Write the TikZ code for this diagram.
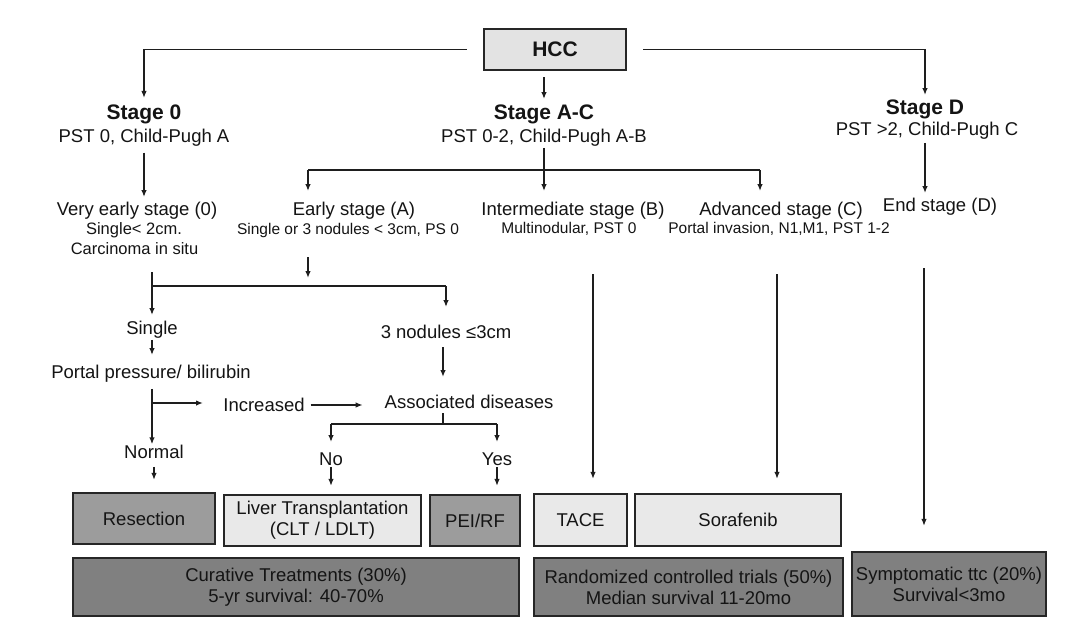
\documentclass[tikz,border=0pt]{standalone}
\usepackage{fontspec}
\setmainfont{Liberation Sans}
\usetikzlibrary{arrows.meta}
\definecolor{linec}{HTML}{1E1E1E}
\definecolor{borderc}{HTML}{262626}
\definecolor{textc}{HTML}{141414}
\definecolor{hccf}{HTML}{E3E3E3}
\definecolor{lightf}{HTML}{E9E9E9}
\definecolor{midf}{HTML}{9C9C9C}
\definecolor{darkf}{HTML}{808080}
\begin{document}
\begin{tikzpicture}[x=1pt,y=-1pt,
  txt/.style={font=\fontsize{18.5}{21}\selectfont, inner sep=0pt, outer sep=0pt, text height=13.3pt, text depth=0pt, text=textc},
  ttl/.style={font=\fontsize{21}{24}\selectfont\bfseries, inner sep=0pt, outer sep=0pt, text height=15.1pt, text depth=0pt, text=textc},
  sml/.style={font=\fontsize{15.5}{18}\selectfont, inner sep=0pt, outer sep=0pt, text height=11.2pt, text depth=0pt, text=textc},
  mdt/.style={font=\fontsize{16.5}{19}\selectfont, inner sep=0pt, outer sep=0pt, text height=11.9pt, text depth=0pt, text=textc},
  box/.style={draw=borderc, line width=1.8pt, inner sep=0pt, outer sep=0pt, align=center, font=\fontsize{18.5}{21}\selectfont, text=textc},
  ln/.style={draw=linec, line width=1.5pt},
  arr/.style={ln, -{Latex[length=7pt,width=5.5pt]}},
]
\useasboundingbox (0,0) rectangle (1071,630);
\fill[white] (0,0) rectangle (1071,630);

% top box
\node[box, fill=hccf, minimum width=142.2pt, minimum height=41.2pt, font=\fontsize{21}{24}\selectfont\bfseries] (hcc) at (555,49.5) {HCC};

% stage titles
\node[ttl] (s0) at (144,112) {Stage 0};
\node[txt] (p0) at (144,136) {PST 0, Child-Pugh A};
\node[ttl] (sAC) at (544,112) {Stage A-C};
\node[txt] (pAC) at (544,136) {PST 0-2, Child-Pugh A-B};
\node[ttl] (sD) at (925,107) {Stage D};
\node[txt] (pD) at (927,129) {PST >2, Child-Pugh C};

% level 3
\node[txt] (ve) at (137,209) {Very early stage (0)};
\node[mdt] (ves) at (134,229) {Single< 2cm.};
\node[mdt] (cis) at (134.5,249) {Carcinoma in situ};
\node[txt] (eA) at (354,209) {Early stage (A)};
\node[sml] (eAs) at (348,229) {Single or 3 nodules < 3cm, PS 0};
\node[txt] (iB) at (573,209) {Intermediate stage (B)};
\node[sml] (iBs) at (569,228) {Multinodular, PST 0};
\node[txt] (aC) at (781,209) {Advanced stage (C)};
\node[sml] (aCs) at (779,228) {Portal invasion, N1,M1, PST 1-2};
\node[txt] (eD) at (940,205) {End stage (D)};

% early-stage subtree
\node[txt] (sgl) at (152,328) {Single};
\node[txt] (pp) at (151,372) {Portal pressure/ bilirubin};
\node[txt] (inc) at (264,405) {Increased};
\node[txt] (nrm) at (154,452) {Normal};
\node[txt] (tn) at (446,332) {3 nodules ≤3cm};
\node[txt] (ad) at (469,402) {Associated diseases};
\node[txt] (no) at (331,459) {No};
\node[txt] (yes) at (497,459) {Yes};

% treatment boxes
\node[box, fill=midf, minimum width=142.2pt, minimum height=51.2pt] (res) at (144,518.5) {Resection};
\node[box, fill=lightf, minimum width=197.2pt, minimum height=51.2pt] (lt) at (322.5,520.5) {Liver Transplantation\\(CLT / LDLT)};
\node[box, fill=midf, minimum width=90.2pt, minimum height=51.2pt] (pei) at (475,520.5) {PEI/RF};
\node[box, fill=lightf, minimum width=93.2pt, minimum height=52.2pt] (tace) at (580.5,520) {TACE};
\node[box, fill=lightf, minimum width=206.2pt, minimum height=52.2pt] (sor) at (738,520) {Sorafenib};
\node[box, fill=darkf, minimum width=446.2pt, minimum height=58.2pt] (cur) at (296,587) {Curative Treatments (30\%)\\5-yr survival: 40-70\%};
\node[box, fill=darkf, minimum width=309.2pt, minimum height=58.2pt] (rct) at (688.5,587) {Randomized controlled trials (50\%)\\Median survival 11-20mo};
\node[box, fill=darkf, minimum width=194.2pt, minimum height=64.2pt] (sym) at (949,584) {Symptomatic ttc (20\%)\\Survival<3mo};

% junction coordinates
\coordinate (jAC) at (544,170);
\coordinate (jE) at (308,286);
\coordinate (kL) at (152,272);
\coordinate (jAD) at (443,424);
\coordinate (kAD) at (443,413);
\coordinate (kInc) at (152,403);
\coordinate (tB) at (593,274);
\coordinate (tC) at (777,274);
\coordinate (tD) at (924,268);
\coordinate (tE) at (308,257);
\coordinate (tN) at (443,347);

% connectors from HCC
\draw[arr, shorten <=17pt, shorten >=6.5pt] (hcc.west) -| (s0.north);
\draw[arr, shorten <=17pt, shorten >=4.4pt] (hcc.east) -| (sD.north);
\draw[arr, shorten <=7pt, shorten >=5.4pt] (sAC.north |- hcc.south) -- (sAC.north);

% stage to sub-stage
\draw[arr, shorten <=10pt, shorten >=5.3pt] (p0.south) -- (p0.south |- ve.north);
\draw[arr, shorten <=5.3pt, shorten >=11.3pt] (pAC.south) -- (pAC.south |- iB.north);
\draw[ln] (jAC -| eA.north) ++(-46,0) -- ([xshift=-21pt]jAC -| aC.north);
\draw[arr, shorten >=11.3pt] ([xshift=-46pt]jAC -| eA.north) -- ([xshift=-46pt]eA.north);
\draw[arr, shorten >=11.3pt] ([xshift=-21pt]jAC -| aC.north) -- ([xshift=-21pt]aC.north);
\draw[arr, shorten <=7.3pt, shorten >=5.3pt] (sD |- pD.south) -- (sD |- eD.north);

% early-stage split
\draw[arr] (tE) -- ([yshift=8pt]jE);
\draw[ln] (jE -| sgl.north) -- (jE -| tn.north);
\draw[arr, shorten >=6.3pt] (kL) -- (sgl.north);
\draw[arr, shorten >=18.3pt] (jE -| tn.north) -- (tn.north);
\draw[arr, shorten <=5.3pt, shorten >=10.3pt] (sgl.south) -- (sgl.south |- pp.north);
\draw[arr, shorten <=10.3pt, shorten >=1pt] (sgl |- pp.south) -- (sgl |- nrm.north);
\draw[arr] (kInc) -- ++(51,0);
\draw[arr, shorten <=6pt, shorten >=22pt] (inc.east) -- (inc.east -| ad.west);
\draw[arr] (tN) -- (tN |- 0,377);
\draw[ln] (kAD) -- (jAD);
\draw[ln] (jAD -| no.north) -- (jAD -| yes.north);
\draw[arr, shorten >=10.3pt] (jAD -| no.north) -- (no.north);
\draw[arr, shorten >=10.3pt] (jAD -| yes.north) -- (yes.north);

% into treatment boxes
\draw[arr, shorten <=8.3pt, shorten >=13pt] (nrm.south) -- (nrm.south |- res.north);
\draw[arr, shorten <=1.3pt, shorten >=9pt] (no.south) -- (no.south |- lt.north);
\draw[arr, shorten <=1.3pt, shorten >=9pt] (yes.south) -- (yes.south |- pei.north);
\draw[arr, shorten >=15pt] (tB) -- (tB |- tace.north);
\draw[arr, shorten >=15pt] (tC) -- (tC |- sor.north);
\draw[arr, shorten >=26pt] (tD) -- (tD |- sym.north);
\end{tikzpicture}
\end{document}
